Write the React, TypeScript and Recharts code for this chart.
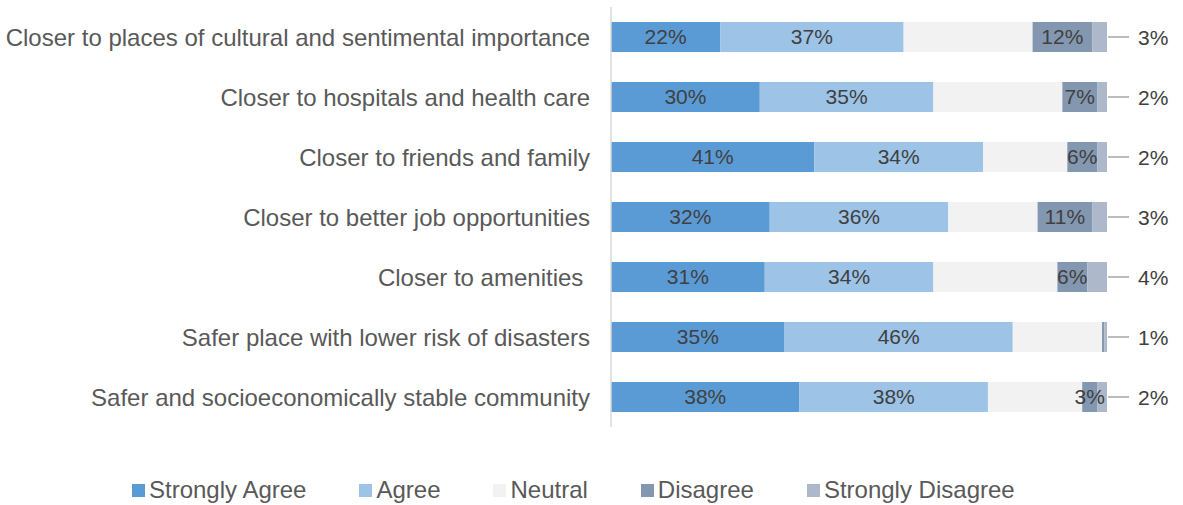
import { BarChart, Bar, XAxis, YAxis, LabelList } from 'recharts';

const categories = [
  'Closer to places of cultural and sentimental importance',
  'Closer to hospitals and health care',
  'Closer to friends and family',
  'Closer to better job opportunities',
  'Closer to amenities\u00A0',
  'Safer place with lower risk of disasters',
  'Safer and socioeconomically stable community',
];
const stronglyAgree = [22, 30, 41, 32, 31, 35, 38];
const agree = [37, 35, 34, 36, 34, 46, 38];
const neutral = [26, 26, 17, 18, 25, 18, 19];
const disagree = [12, 7, 6, 11, 6, 0.5, 3];
const stronglyDisagree = [3, 2, 2, 3, 4, 0.5, 2];

const seriesNames = ['Strongly Agree', 'Agree', 'Neutral', 'Disagree', 'Strongly Disagree'];
const COLORS = ['#5B9BD5', '#9DC3E6', '#F2F2F2', '#8497B0', '#ADB9CA'];

const data = categories.map((name, i) => ({
  name,
  sa: stronglyAgree[i],
  a: agree[i],
  n: neutral[i],
  d: disagree[i],
  sd: stronglyDisagree[i],
}));

const FONT = '"Liberation Sans", Arial, sans-serif';

const pct = (v: any) => (Number(v) < 2 ? '' : `${Math.round(Number(v))}%`);

// outside label with a short leader line, like Excel's callouts
const OutsideLabel = (props: any) => {
  const { x, y, width, height, value } = props;
  const ex = Number(x) + Number(width);
  const cy = Number(y) + Number(height) / 2;
  return (
    <g>
      <line x1={ex + 1} y1={cy} x2={ex + 22} y2={cy} stroke="#A6A6A6" strokeWidth={1.5} />
      <text x={ex + 31} y={cy} dominantBaseline="central" fontSize={21} fill="#404040" fontFamily={FONT}>
        {`${Math.round(Number(value))}%`}
      </text>
    </g>
  );
};

export default function App() {
  return (
    <div style={{ position: 'absolute', left: 0, top: 0, width: 1183, height: 505, fontFamily: FONT, background: '#fff' }}>
      <BarChart
        width={1183}
        height={440}
        data={data}
        layout="vertical"
        barSize={30}
        margin={{ top: 7, right: 76, bottom: 13, left: 0 }}
      >
        <XAxis type="number" domain={[0, 100]} hide />
        <YAxis
          type="category"
          dataKey="name"
          width={611}
          tickLine={false}
          tickSize={0}
          tickMargin={21}
          axisLine={{ stroke: '#D9D9D9', strokeWidth: 1.5 }}
          tick={{ fontSize: 24, fill: '#595959', fontFamily: FONT }}
          interval={0}
        />
        <Bar dataKey="sa" stackId="s" fill={COLORS[0]} isAnimationActive={false}>
          <LabelList dataKey="sa" position="center" formatter={pct} fill="#404040" fontSize={21} fontFamily={FONT} />
        </Bar>
        <Bar dataKey="a" stackId="s" fill={COLORS[1]} isAnimationActive={false}>
          <LabelList dataKey="a" position="center" formatter={pct} fill="#404040" fontSize={21} fontFamily={FONT} />
        </Bar>
        <Bar dataKey="n" stackId="s" fill={COLORS[2]} isAnimationActive={false} />
        <Bar dataKey="d" stackId="s" fill={COLORS[3]} isAnimationActive={false}>
          <LabelList dataKey="d" position="center" formatter={pct} fill="#404040" fontSize={21} fontFamily={FONT} />
        </Bar>
        <Bar dataKey="sd" stackId="s" fill={COLORS[4]} isAnimationActive={false}>
          <LabelList dataKey="sd" content={OutsideLabel} />
        </Bar>
      </BarChart>
      <div
        style={{
          position: 'absolute',
          left: 132,
          top: 476,
          height: 28,
          display: 'flex',
          alignItems: 'center',
          gap: 53,
          fontSize: 24,
          color: '#595959',
          whiteSpace: 'nowrap',
        }}
      >
        {seriesNames.map((s, i) => (
          <div key={s} style={{ display: 'flex', alignItems: 'center' }}>
            <span style={{ width: 13, height: 13, background: COLORS[i], marginRight: 4, display: 'inline-block' }} />
            <span>{s}</span>
          </div>
        ))}
      </div>
    </div>
  );
}
